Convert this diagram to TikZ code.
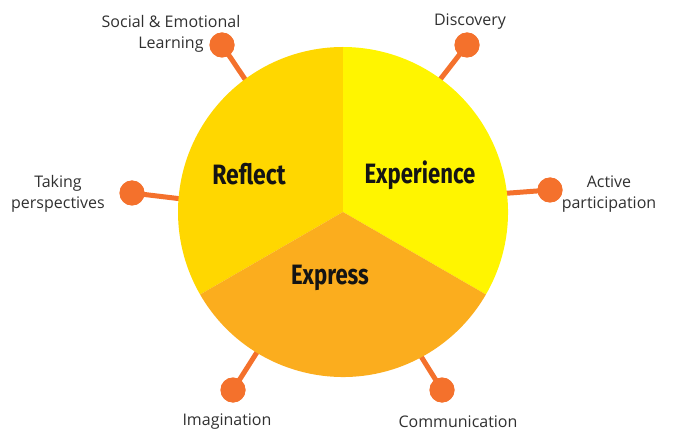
\documentclass[tikz,border=0pt]{standalone}
\usepackage{fontspec}
\usepackage{graphicx}
\usetikzlibrary{calc}
\setmainfont{Open Sans}
\newfontfamily\boldlab{Fira Sans}
\definecolor{reflectc}{HTML}{FFD700}
\definecolor{experc}{HTML}{FFF500}
\definecolor{expressc}{HTML}{FBAD1E}
\definecolor{dotc}{HTML}{F4712C}
\definecolor{txtc}{HTML}{303030}
\begin{document}
\begin{tikzpicture}[x=1pt,y=1pt,
  dot/.style={circle,fill=dotc,inner sep=0pt,minimum size=25pt},
  stick/.style={draw=dotc,line width=5pt},
  lab/.style={text=txtc,font=\fontsize{16}{20.5}\selectfont,align=center,inner sep=0pt},
  big/.style={text=black!92,inner sep=0pt,font=\boldlab\bfseries\fontsize{28}{32}\selectfont}]
\useasboundingbox (0,0) rectangle (674,434);
\coordinate (C) at (343,222);
% connectors' circle ends
\coordinate (eSEL) at ($(C)+(126.5:160)$);
\coordinate (eDis) at ($(C)+(53.8:160)$);
\coordinate (eTak) at ($(C)+(175.4:160)$);
\coordinate (eAct) at ($(C)+(6.6:160)$);
\coordinate (eIma) at ($(C)+(-121.5:160)$);
\coordinate (eCom) at ($(C)+(-61.7:160)$);
\node[dot] (dSEL) at (222,389) {};
\node[dot] (dDis) at (467,389) {};
\node[dot] (dTak) at (132,241) {};
\node[dot] (dAct) at (550,244) {};
\node[dot] (dIma) at (233,44) {};
\node[dot] (dCom) at (442,44) {};
\draw[stick] (dSEL.center) -- (eSEL);
\draw[stick] (dDis.center) -- (eDis);
\draw[stick] (dTak.center) -- (eTak);
\draw[stick] (dAct.center) -- (eAct);
\draw[stick] (dIma.center) -- (eIma);
\draw[stick] (dCom.center) -- (eCom);
\fill[reflectc] (C) -- ++(90:165) arc[start angle=90,end angle=210,radius=165] -- cycle;
\fill[experc] (C) -- ++(-30:165) arc[start angle=-30,end angle=90,radius=165] -- cycle;
\fill[expressc] (C) -- ++(210:165) arc[start angle=210,end angle=330,radius=165] -- cycle;
\node[dot] at (dSEL) {};
\node[dot] at (dDis) {};
\node[dot] at (dTak) {};
\node[dot] at (dAct) {};
\node[dot] at (dIma) {};
\node[dot] at (dCom) {};
\node[big] (reflect) at (249,260) {\scalebox{0.82}[1]{Reflect}};
\node[big] (exper) at (420,259) {\scalebox{0.79}[1]{Experience}};
\node[big] (express) at (330,156) {\scalebox{0.79}[1]{Express}};
\node[lab] (tSEL) at (171,400) {Social \& Emotional\\Learning};
\node[lab] (tDis) at (470,412) {Discovery};
\node[lab] (tTak) at (58,240) {Taking\\perspectives};
\node[lab] (tAct) at (609,240) {Active\\participation};
\node[lab] (tIma) at (227,12) {Imagination};
\node[lab] (tCom) at (458,12) {Communication};
\end{tikzpicture}
\end{document}
